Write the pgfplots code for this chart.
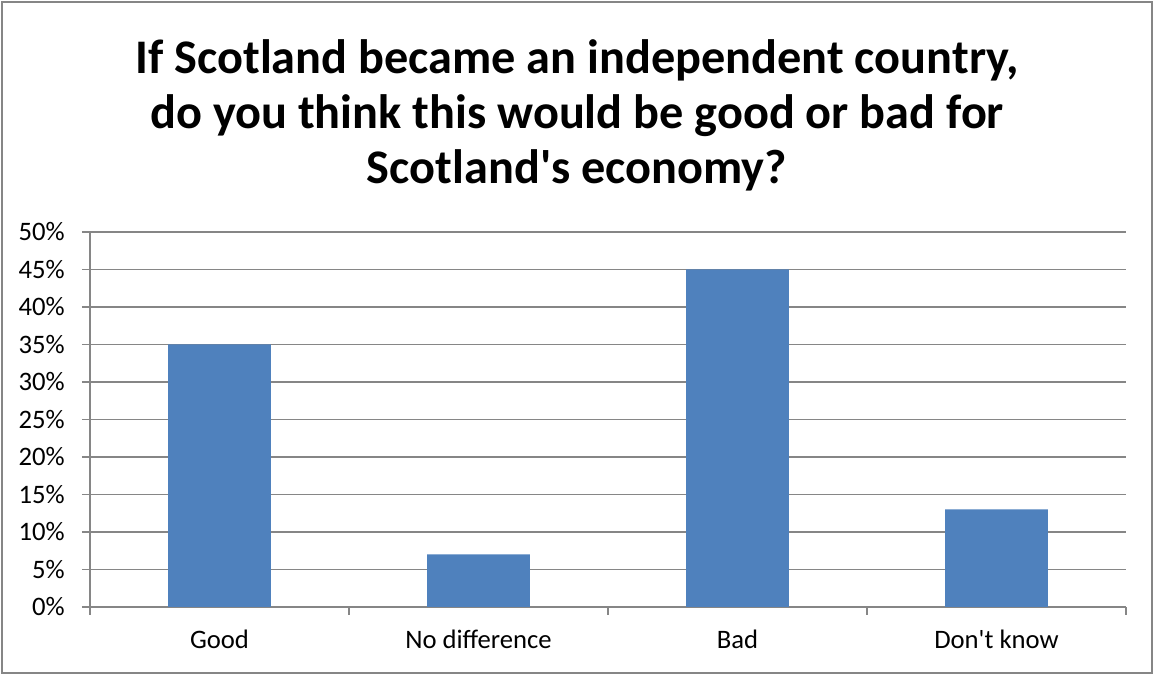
\documentclass[border=0pt]{standalone}
\usepackage{pgfplots}
\pgfplotsset{compat=1.18}
\usepackage{fontspec}
\setmainfont{Carlito}[Ligatures=TeXOff]
\definecolor{barblue}{RGB}{79,129,189}
\definecolor{gridgray}{RGB}{134,134,134}
\begin{document}
\begin{tikzpicture}
\path[use as bounding box] (0,0) rectangle (865.5pt,506.25pt);
\draw[gridgray, line width=1.2pt] (1.5pt,1.5pt) rectangle (864pt,504.75pt);
\node[anchor=base, font=\bfseries\fontsize{36.2}{42}\selectfont] at (432.75pt,450.75pt) {If Scotland became an independent country,};
\node[anchor=base, font=\bfseries\fontsize{36.2}{42}\selectfont] at (432.75pt,409.5pt) {do you think this would be good or bad for};
\node[anchor=base, font=\bfseries\fontsize{36.2}{42}\selectfont] at (432.75pt,368.25pt) {Scotland's economy?};
\begin{axis}[
  at={(67.5pt,51pt)}, anchor=south west,
  scale only axis, width=777pt, height=281.25pt,
  ymin=0, ymax=50, xmin=-0.5, xmax=3.5,
  ytick={0,5,...,50},
  yticklabel={\pgfmathprintnumber{\tick}\%},
  /pgf/number format/assume math mode=true,
  xtick={0,1,2,3},
  xticklabels={Good,No difference,Bad,Don't know},
  minor xtick={-0.5,0.5,1.5,2.5,3.5},
  axis x line*=bottom, axis y line*=left,
  axis line style={gridgray, line width=1pt},
  ymajorgrids, grid style={gridgray, line width=1pt},
  major tick length=6pt, minor tick length=6pt,
  tick style={gridgray, line width=1pt},
  tick align=outside,
  xtick style={draw=none},
  minor x tick style={draw=gridgray, line width=1pt},
  yticklabel style={font=\fontsize{20}{22}\selectfont, anchor=east, inner sep=0pt, xshift=-12.75pt},
  xticklabel style={font=\fontsize{20}{22}\selectfont, anchor=base, inner sep=0pt, yshift=-25pt},
  ybar, bar width=77pt,
]
\addplot[fill=barblue, draw=none] coordinates {(0,35) (1,7) (2,45) (3,13)};
\end{axis}
\end{tikzpicture}
\end{document}
